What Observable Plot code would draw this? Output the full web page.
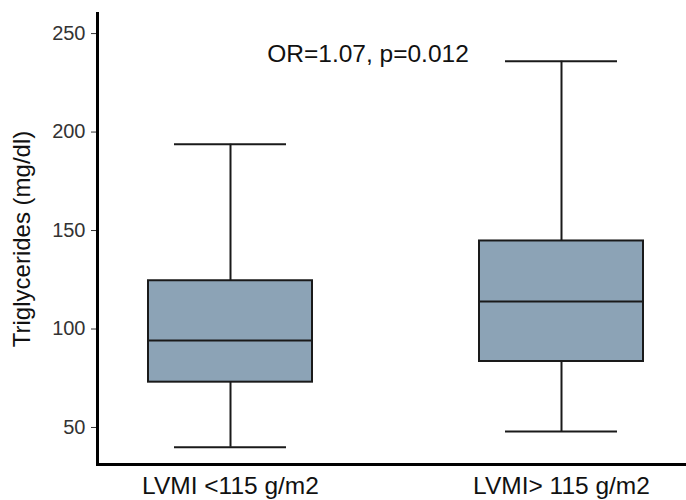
<!DOCTYPE html>
<html><head><meta charset="utf-8">
<script src="https://cdn.jsdelivr.net/npm/d3@7"></script>
<script src="https://cdn.jsdelivr.net/npm/@observablehq/plot@0.6"></script>
<style>body{margin:0;background:#fff}</style>
</head><body><div id="chart"></div>
<script>
const groups = ["LVMI <115 g/m2", "LVMI> 115 g/m2"];
const lowerWhisker = [40, 48];
const q1 = [73, 83.5];
const median = [94.2, 114];
const q3 = [124.5, 144.7];
const upperWhisker = [193.8, 236];
const yTicks = [50, 100, 150, 200, 250];
const annotation = "OR=1.07, p=0.012";
const yLabel = "Triglycerides (mg/dl)";

const rows = groups.map((g, i) => ({group: g, lo: lowerWhisker[i], q1: q1[i], med: median[i], q3: q3[i], hi: upperWhisker[i]}));
const ink = "#1a1a1a";

const chart = Plot.plot({
  width: 686, height: 500,
  marginTop: 13, marginBottom: 36, marginLeft: 97, marginRight: 0,
  style: {fontFamily: "'Liberation Sans', Arial, sans-serif", background: "white"},
  x: {domain: groups, range: [97, 694], paddingInner: 0.505, paddingOuter: 0.154, label: null},
  y: {domain: [31.2, 260.2], label: null},
  marks: [
    Plot.ruleX(rows, {x: "group", y1: "lo", y2: "hi", stroke: ink, strokeWidth: 2}),
    Plot.tickY(rows, {x: "group", y: "lo", insetLeft: 26, insetRight: 26, stroke: ink, strokeWidth: 2}),
    Plot.tickY(rows, {x: "group", y: "hi", insetLeft: 26, insetRight: 26, stroke: ink, strokeWidth: 2}),
    Plot.barY(rows, {x: "group", y1: "q1", y2: "q3", fill: "#8ca3b6", stroke: ink, strokeWidth: 2}),
    Plot.tickY(rows, {x: "group", y: "med", stroke: ink, strokeWidth: 2}),
    Plot.axisY({ticks: yTicks, tickSize: 6, tickPadding: 6, fontSize: 20, color: "#333", label: null}),
    Plot.axisX({tickSize: 0, tickPadding: 12, fontSize: 24.5, color: "#111", label: null}),
    Plot.frame({anchor: "left", stroke: "#000", strokeWidth: 3}),
    Plot.frame({anchor: "bottom", stroke: "#000", strokeWidth: 3}),
    Plot.text([yLabel], {frameAnchor: "left", textAnchor: "middle", rotate: -90, dx: -75, fontSize: 24, fill: "#111"}),
    Plot.text([annotation], {frameAnchor: "top", dx: -24, dy: 31, fontSize: 24.5, fill: "#111"})
  ]
});
document.getElementById("chart").append(chart);
</script>
</body></html>
